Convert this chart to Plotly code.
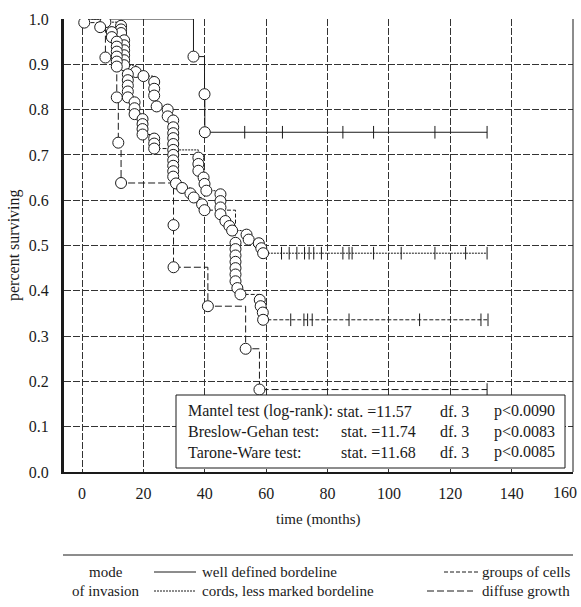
import plotly.graph_objects as go

# ---------------- data ----------------
well_t = [36.3, 39.9, 40.0]
well_s = [0.917, 0.834, 0.750]
well_cens = [53.0, 65.3, 85.0, 95.0, 115.0, 132.0]

cords_t = [7.6, 12.7, 12.7, 12.7, 13.7, 13.7, 13.7, 13.7, 13.7, 13.7,
           17.5, 20.0, 23.5, 23.5, 23.5, 24.3, 27.9, 27.9,
           29.7, 29.7, 29.7, 29.7, 29.7, 29.7,
           37.9, 37.9, 37.9, 39.6, 39.9, 40.5,
           45.1, 45.1, 45.1, 45.1, 46.7, 48.0, 48.9,
           53.6, 54.3, 57.6, 58.4, 59.0]
cords_s = [0.993, 0.985, 0.977, 0.969, 0.953, 0.942, 0.931, 0.920, 0.909, 0.898,
           0.883, 0.874, 0.861, 0.846, 0.831, 0.807, 0.800, 0.785,
           0.776, 0.761, 0.748, 0.737, 0.724, 0.711,
           0.694, 0.680, 0.665, 0.650, 0.636, 0.621,
           0.613, 0.598, 0.584, 0.569, 0.554, 0.543, 0.533,
           0.524, 0.513, 0.505, 0.494, 0.483]
cords_cens = [65.0, 67.5, 70.0, 72.5, 74.0, 75.5, 78.0, 85.0, 87.0, 88.0,
              95.0, 104.0, 115.0, 125.0, 132.0]

groups_t = [0.7, 5.9, 9.7, 9.7, 11.3, 11.3, 11.3, 11.3, 11.3, 11.3,
            14.9, 14.9, 14.9, 14.9, 14.9, 17.1, 17.1, 17.1,
            19.7, 19.7, 19.7, 19.7, 23.5, 23.5, 23.5,
            29.7, 29.7, 29.7, 29.7, 29.7,
            30.6, 32.6, 35.3, 36.4, 39.1, 39.9,
            50.0, 50.0, 50.0, 50.0, 50.0, 50.0, 50.0, 50.6, 51.6,
            57.9, 58.2, 58.9, 59.0]
groups_s = [0.992, 0.982, 0.971, 0.960, 0.950, 0.939, 0.928, 0.917, 0.906, 0.895,
            0.878, 0.865, 0.853, 0.840, 0.827, 0.816, 0.803, 0.790,
            0.779, 0.768, 0.757, 0.745, 0.736, 0.725, 0.714,
            0.700, 0.688, 0.676, 0.664, 0.652,
            0.637, 0.627, 0.615, 0.606, 0.591, 0.578,
            0.506, 0.492, 0.478, 0.464, 0.450, 0.436, 0.421, 0.406, 0.392,
            0.380, 0.366, 0.352, 0.336]
groups_cens = [68.0, 72.3, 73.5, 75.0, 87.0, 110.0, 130.0, 132.3]

diffuse_t = [7.6, 11.3, 11.8, 12.7, 29.8, 29.8, 41.0, 53.3, 57.8]
diffuse_s = [0.915, 0.827, 0.727, 0.638, 0.545, 0.452, 0.366, 0.272, 0.182]
diffuse_cens = [132.0]

series = [
    ("well defined bordeline", well_t, well_s, well_cens, "solid"),
    ("cords, less marked bordeline", cords_t, cords_s, cords_cens, "2px,1px"),
    ("groups of cells", groups_t, groups_s, groups_cens, "4px,2px"),
    ("diffuse growth", diffuse_t, diffuse_s, diffuse_cens, "7px,3px"),
]

x_ticks = [0, 20, 40, 60, 80, 100, 120, 140, 160]
x_ticktext = ["0", "20", "40", "60", "80", "100", "120", "140", ""]
x_last_label = "160"
y_ticks = [0.0, 0.1, 0.2, 0.3, 0.4, 0.5, 0.6, 0.7, 0.8, 0.9, 1.0]

stats_names = ["Mantel test (log-rank):", "Breslow-Gehan test:", "Tarone-Ware test:"]
stats_stat = ["stat. =11.57", "stat. =11.74", "stat. =11.68"]
stats_df = ["df. 3", "df. 3", "df. 3"]
stats_p = ["p<0.0090", "p<0.0083", "p<0.0085"]

# ---------------- figure ----------------
FONT = "Liberation Serif"
INK = "#1a1a1a"
fig = go.Figure()

# lines first
for name, t, s, cens, dash in series:
    xs = [0.0] + list(t)
    ys = [1.0] + list(s)
    xs.append(max(cens))
    ys.append(s[-1])
    fig.add_trace(go.Scatter(x=xs, y=ys, mode="lines", line_shape="hv",
                             line=dict(color=INK, width=1, dash=dash),
                             hoverinfo="skip", showlegend=False))
# censor crosses
for name, t, s, cens, dash in series:
    fig.add_trace(go.Scatter(x=cens, y=[s[-1]] * len(cens), mode="markers",
                             marker=dict(symbol="line-ns", size=9,
                                         line=dict(color=INK, width=1)),
                             showlegend=False))
# event circles
for name, t, s, cens, dash in series:
    fig.add_trace(go.Scatter(x=t, y=s, mode="markers",
                             marker=dict(symbol="circle", size=11, color="white",
                                         line=dict(color=INK, width=1)),
                             showlegend=False))

W, H = 581, 607
L, R, T, B = 64, 8, 19, 135
pw, ph = W - L - R, H - T - B


def px(xp):
    return (xp - L) / pw


def py(yp):
    return (H - B - yp) / ph


fig.update_layout(
    width=W, height=H,
    margin=dict(l=L, r=R, t=T, b=B, pad=0, autoexpand=False),
    paper_bgcolor="white", plot_bgcolor="white",
    font=dict(family=FONT, size=15, color=INK),
    showlegend=False,
)
fig.update_xaxes(range=[-5.9, 160], tickvals=x_ticks, ticktext=x_ticktext,
                 showgrid=True, automargin=False,
                 gridcolor="#333", gridwidth=1, griddash="7px,2px",
                 zeroline=False, showline=True, linecolor=INK, linewidth=2,
                 ticks="outside", ticklen=6, tickcolor="rgba(0,0,0,0)",
                 tickfont=dict(family=FONT, size=16, color=INK))
fig.update_yaxes(range=[0, 1.0], tickvals=y_ticks, tickformat=".1f", showgrid=True,
                 automargin=False,
                 gridcolor="#333", gridwidth=1, griddash="7px,2px",
                 zeroline=False, showline=True, linecolor=INK, linewidth=3,
                 ticks="outside", ticklen=9, tickcolor="rgba(0,0,0,0)",
                 tickfont=dict(family=FONT, size=16, color=INK))

# last x tick label (kept inside the page)
fig.add_annotation(xref="paper", yref="paper", x=px(579), y=py(492), text=x_last_label,
                   showarrow=False, xanchor="right", yanchor="middle",
                   font=dict(family=FONT, size=16, color=INK))

# right border
fig.add_shape(type="line", xref="paper", yref="paper", x0=1, x1=1, y0=0, y1=1,
              line=dict(color=INK, width=1))

# stats box
fig.add_shape(type="rect", xref="paper", yref="paper",
              x0=px(176), x1=px(565), y0=py(468), y1=py(395),
              line=dict(color=INK, width=1), fillcolor="white", layer="above")
for i in range(len(stats_names)):
    yy = py(411 + i * 20.5)
    sx = 335 if i == 0 else 339
    for txt, xx, anc in [(stats_names[i], 186, "left"), (stats_stat[i], sx, "left"),
                         (stats_df[i], 438, "left"), (stats_p[i], 557, "right")]:
        fig.add_annotation(xref="paper", yref="paper", x=px(xx), y=yy, text=txt,
                           showarrow=False, xanchor=anc, yanchor="middle",
                           font=dict(family=FONT, size=16, color=INK))

# axis titles
fig.add_annotation(xref="paper", yref="paper", x=px(318), y=py(519),
                   text="time (months)", showarrow=False,
                   xanchor="center", yanchor="middle",
                   font=dict(family=FONT, size=15, color=INK))
fig.add_annotation(xref="paper", yref="paper", x=px(14), y=py(245),
                   text="percent surviving", showarrow=False, textangle=-90,
                   xanchor="center", yanchor="middle",
                   font=dict(family=FONT, size=16, color=INK))

# legend block
fig.add_shape(type="line", xref="paper", yref="paper", x0=px(63), x1=px(573),
              y0=py(555), y1=py(555), line=dict(color=INK, width=1))
fig.add_annotation(xref="paper", yref="paper", x=px(106), y=py(572), text="mode",
                   showarrow=False, xanchor="center", yanchor="middle",
                   font=dict(family=FONT, size=15, color=INK))
fig.add_annotation(xref="paper", yref="paper", x=px(106), y=py(591), text="of invasion",
                   showarrow=False, xanchor="center", yanchor="middle",
                   font=dict(family=FONT, size=15, color=INK))
# (sample x0, sample x1, row y, text x, text anchor)
legend_pos = [(154, 196, 572, 200, "left"), (154, 196, 591, 200, "left"),
              (444, 479, 572, 572, "right"), (427, 473, 591, 572, "right")]
for (name, t, s, cens, dash), (xa, xb, yl, xt, anc) in zip(series, legend_pos):
    fig.add_shape(type="line", xref="paper", yref="paper", x0=px(xa), x1=px(xb),
                  y0=py(yl), y1=py(yl), line=dict(color=INK, width=1, dash=dash))
    fig.add_annotation(xref="paper", yref="paper", x=px(xt), y=py(yl), text=name,
                       showarrow=False, xanchor=anc, yanchor="middle",
                       font=dict(family=FONT, size=15, color=INK))

fig.write_html("out.html")
